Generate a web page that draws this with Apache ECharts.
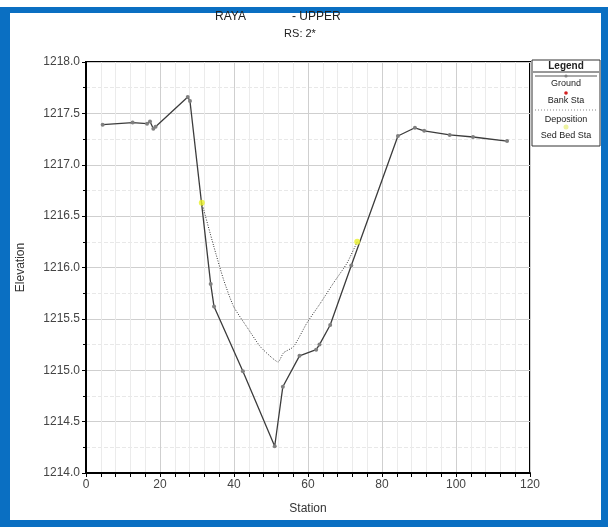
<!DOCTYPE html>
<html>
<head>
    <meta charset="utf-8">
    <title>RAYA - UPPER cross section</title>
    <script src="https://cdn.jsdelivr.net/npm/echarts@6/dist/echarts.min.js"></script>
    <style>
        html, body { margin: 0; padding: 0; background: #ffffff; }
        body { width: 608px; height: 527px; position: relative; overflow: hidden; }
        #frame {
            position: absolute; left: 0; top: 7px;
            width: 591px; height: 507px;
            border-style: solid; border-color: #0a6fc2;
            border-width: 6px 7px 7px 10px;
        }
        #chart { position: absolute; left: 0; top: 0; width: 608px; height: 527px; }
    </style>
</head>
<body>
<div id="frame"></div>
<div id="chart"></div>
<script>
    // ground profile
    const groundStation = [4.5, 12.6, 16.5, 17.3, 18.2, 18.8, 27.5, 28.1, 33.7, 34.6, 42.4, 51.0,
        53.2, 57.7, 62.2, 63.1, 66.0, 71.7, 84.3, 88.9, 91.4, 98.3, 104.6, 113.8];
    const groundElev = [1217.39, 1217.41, 1217.40, 1217.42, 1217.35, 1217.37, 1217.66, 1217.62,
        1215.84, 1215.62, 1214.99, 1214.26, 1214.84, 1215.14, 1215.20, 1215.25, 1215.44, 1216.02,
        1217.28, 1217.36, 1217.33, 1217.29, 1217.27, 1217.23];

    // deposition surface
    const depoStation = [31.3, 34.5, 37.2, 39.9, 43.5, 47.1, 50.3, 51.9, 53.4, 56.1, 59.7, 63.3, 66.9, 70.5, 73.3];
    const depoElev = [1216.63, 1216.21, 1215.88, 1215.62, 1215.42, 1215.23, 1215.12, 1215.08,
        1215.17, 1215.23, 1215.46, 1215.65, 1215.85, 1216.04, 1216.25];

    // sed bed stations
    const sedStation = [31.3, 73.3];
    const sedElev = [1216.63, 1216.25];

    const xTicks = [0, 20, 40, 60, 80, 100, 120];
    const yTicks = [1214.0, 1214.5, 1215.0, 1215.5, 1216.0, 1216.5, 1217.0, 1217.5, 1218.0];

    const FONT = 'Liberation Sans, Arial, sans-serif';
    const zip = (a, b) => a.map((v, i) => [v, b[i]]);

    const chart = echarts.init(document.getElementById('chart'));

    const lx = 566; // legend centre
    const txt = (x, y, s, font, align) => ({
        type: 'text', x: x, y: y,
        style: { text: s, font: font, fill: '#222', align: align || 'center', verticalAlign: 'middle' }
    });

    const option = {
        animation: false,
        grid: {
            left: 86, right: 78, top: 62, bottom: 54,
            show: true, borderColor: '#000', borderWidth: 2
        },
        xAxis: {
            type: 'value', min: xTicks[0], max: xTicks[xTicks.length - 1], interval: 20,
            name: 'Station', nameLocation: 'middle', nameGap: 30,
            nameTextStyle: { fontFamily: FONT, fontSize: 12, color: '#333' },
            axisLine: { lineStyle: { color: '#000', width: 2 } },
            axisTick: { show: true, length: 4, lineStyle: { color: '#000' } },
            minorTick: { show: true, splitNumber: 5, length: 4, lineStyle: { color: '#000' } },
            axisLabel: { fontFamily: FONT, fontSize: 12, color: '#444', margin: 6 },
            splitLine: { show: true, lineStyle: { color: '#cfcfcf', width: 1 } },
            minorSplitLine: { show: true, lineStyle: { color: '#ebebeb', width: 1 } }
        },
        yAxis: {
            type: 'value', min: yTicks[0], max: yTicks[yTicks.length - 1], interval: 0.5,
            name: 'Elevation', nameLocation: 'middle', nameGap: 59, nameRotate: 90,
            nameTextStyle: { fontFamily: FONT, fontSize: 12, color: '#333' },
            axisLine: { show: true, lineStyle: { color: '#000', width: 2 } },
            axisTick: { show: true, length: 4, lineStyle: { color: '#000' } },
            minorTick: { show: true, splitNumber: 2, length: 3, lineStyle: { color: '#000' } },
            axisLabel: { fontFamily: FONT, fontSize: 12, color: '#444', margin: 6,
                formatter: v => v.toFixed(1) },
            splitLine: { show: true, lineStyle: { color: '#cfcfcf', width: 1 } },
            minorSplitLine: { show: true, lineStyle: { color: '#e8e8e8', width: 1, type: 'dashed' } }
        },
        series: [
            {
                name: 'Ground', type: 'line', data: zip(groundStation, groundElev),
                symbol: 'circle', symbolSize: 4, showAllSymbol: true,
                lineStyle: { color: '#3c3c3c', width: 1.3 },
                itemStyle: { color: '#808080' }, z: 3
            },
            {
                name: 'Deposition', type: 'line', data: zip(depoStation, depoElev),
                symbol: 'none', smooth: 0.2,
                lineStyle: { color: '#333', width: 1, type: [1, 1.5] }, z: 2
            },
            {
                name: 'Sed Bed Sta', type: 'scatter', data: zip(sedStation, sedElev),
                symbol: 'circle', symbolSize: 6,
                itemStyle: { color: '#e8f02a' }, z: 4
            }
        ],
        graphic: [
            // title
            txt(215, 17, 'RAYA', '12px ' + FONT, 'left'),
            txt(292, 17, '- UPPER', '12px ' + FONT, 'left'),
            txt(300, 34, 'RS: 2*', '11px ' + FONT),
            // legend box
            { type: 'rect', shape: { x: 532, y: 60, width: 68, height: 86 },
              style: { fill: '#fff', stroke: '#333', lineWidth: 1 } },
            txt(lx, 66, 'Legend', 'bold 10px ' + FONT),
            { type: 'line', shape: { x1: 533, y1: 72, x2: 599, y2: 72 }, style: { stroke: '#333', lineWidth: 1 } },
            { type: 'line', shape: { x1: 535, y1: 76, x2: 597, y2: 76 }, style: { stroke: '#555', lineWidth: 1 } },
            { type: 'circle', shape: { cx: lx, cy: 76, r: 1.6 }, style: { fill: '#808080' } },
            txt(lx, 84, 'Ground', '9px ' + FONT),
            { type: 'circle', shape: { cx: lx, cy: 93, r: 1.8 }, style: { fill: '#d42020' } },
            txt(lx, 101, 'Bank Sta', '9px ' + FONT),
            { type: 'line', shape: { x1: 535, y1: 110, x2: 597, y2: 110 },
              style: { stroke: '#888', lineWidth: 1, lineDash: [1, 2] } },
            txt(lx, 120, 'Deposition', '9px ' + FONT),
            { type: 'circle', shape: { cx: lx, cy: 127, r: 2.5 }, style: { fill: '#eef3a0' } },
            txt(lx, 136, 'Sed Bed Sta', '9px ' + FONT)
        ]
    };

    chart.setOption(option);
</script>
</body>
</html>
